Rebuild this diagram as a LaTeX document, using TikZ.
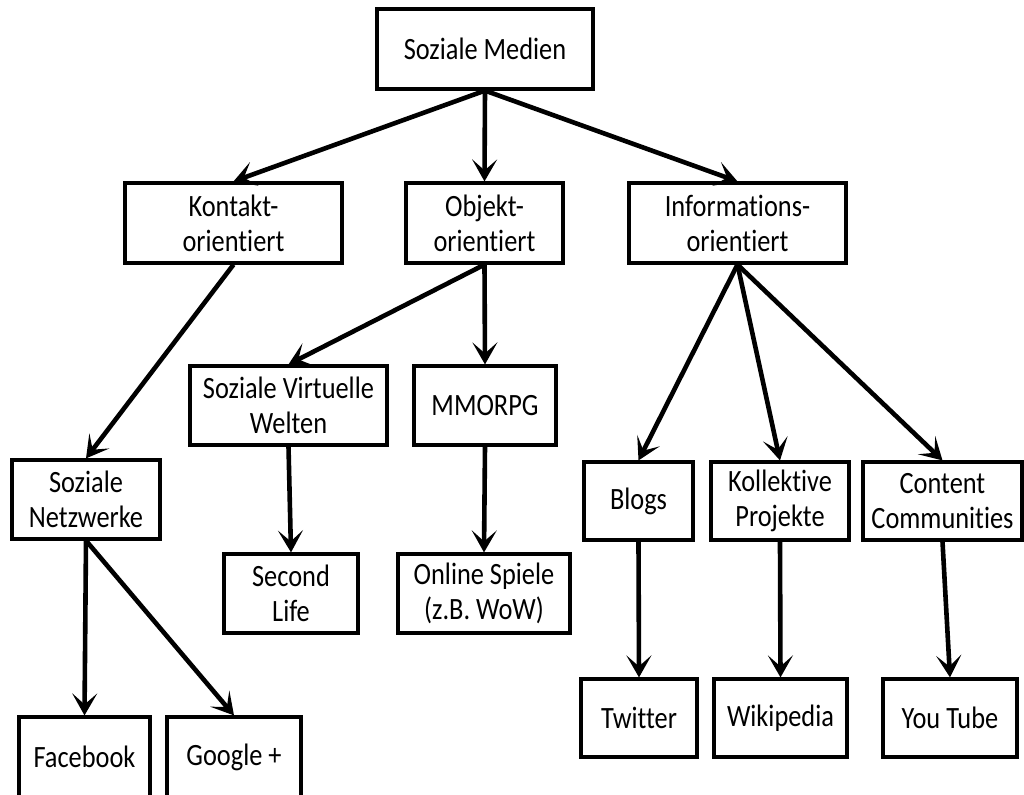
\documentclass[tikz,border=0pt]{standalone}
\usepackage{fontspec}
\setmainfont[FakeStretch=0.85, Ligatures=NoCommon]{Carlito}
\usepackage{tikz}
\usetikzlibrary{arrows.meta}

\begin{document}
\begin{tikzpicture}[x=0.5pt, y=-0.5pt,
    box/.style={draw, line width=1.6pt, align=center, inner sep=0pt,
      font=\fontsize{15.5}{17.5}\selectfont},
    link/.style={line width=2.3pt, -{Stealth[length=11pt, width=12.5pt, inset=5.5pt]}}]
  \useasboundingbox (0, 0) rectangle (1024, 794);

  % level 0 and 1
  \node[box, minimum width=108pt, minimum height=40pt] (medien) at (485, 49) {Soziale Medien};
  \node[box, minimum width=108.5pt, minimum height=40pt] (kontakt) at (233.5, 223) {Kontakt-\\orientiert};
  \node[box, minimum width=78.5pt, minimum height=40pt] (objekt) at (484.5, 223) {Objekt-\\orientiert};
  \node[box, minimum width=108.5pt, minimum height=40pt] (info) at (737.5, 223) {Informations-\\orientiert};

  % level 2
  \node[box, minimum width=74pt, minimum height=39.5pt] (netz) at (86, 499.5) {Soziale\\Netzwerke};
  \node[box, minimum width=98.5pt, minimum height=39.5pt] (welten) at (288.5, 405.5) {Soziale Virtuelle\\Welten};
  \node[box, minimum width=71pt, minimum height=39.5pt] (mmorpg) at (485, 405.5) {MMORPG};
  \node[box, minimum width=54.5pt, minimum height=39pt] (blogs) at (638.5, 501) {Blogs};
  \node[box, minimum width=69pt, minimum height=39pt] (kollektiv) at (780, 501) {Kollektive\\Projekte};
  \node[box, minimum width=79.5pt, minimum height=39pt] (content) at (942.5, 501) {Content\\Communities};

  % level 3
  \node[box, minimum width=67pt, minimum height=39.5pt] (second) at (291, 593.5) {Second\\Life};
  \node[box, minimum width=86pt, minimum height=39.5pt] (online) at (484, 593.5) {Online Spiele\\(z.B. WoW)};
  \node[box, minimum width=65.5pt, minimum height=40pt] (facebook) at (84.5, 757) {Facebook};
  \node[box, minimum width=67pt, minimum height=40pt] (google) at (234, 757) {Google +};
  \node[box, minimum width=58pt, minimum height=39pt] (twitter) at (639, 718) {Twitter};
  \node[box, minimum width=66.5pt, minimum height=39pt] (wiki) at (780.5, 718) {Wikipedia};
  \node[box, minimum width=67pt, minimum height=39pt] (youtube) at (950, 718) {You Tube};

  \foreach \a/\b in {medien/kontakt, medien/objekt, medien/info,
      kontakt/netz, objekt/welten, objekt/mmorpg,
      info/blogs, info/kollektiv, info/content,
      netz/facebook, netz/google, welten/second, mmorpg/online,
      blogs/twitter, kollektiv/wiki, content/youtube}
    \draw[link] (\a.south) -- (\b.north);
\end{tikzpicture}
\end{document}
